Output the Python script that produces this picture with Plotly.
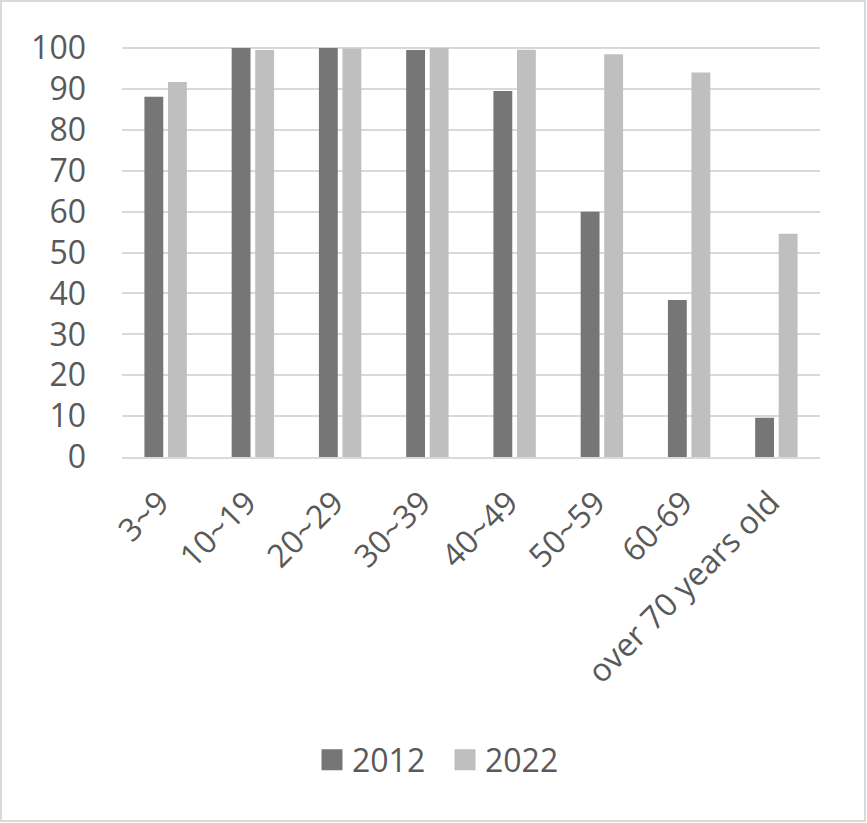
import plotly.graph_objects as go

categories = ["3~9", "10~19", "20~29", "30~39", "40~49", "50~59", "60-69", "over 70 years old"]
values_2012 = [88.1, 100.0, 100.0, 99.5, 89.5, 60.0, 38.4, 9.6]
values_2022 = [91.7, 99.5, 99.9, 100.0, 99.6, 98.5, 94.0, 54.6]
y_ticks = [0, 10, 20, 30, 40, 50, 60, 70, 80, 90, 100]
series_names = ["2012", "2022"]
series_colors = ["#767676", "#bfbfbf"]

W, H = 867, 823
L, R, T, B = 122, 47, 46, 366
pw = W - L - R
ph = H - T - B

def px(x):
    return (x - L) / pw

def py(y):
    return (H - B - y) / ph

FONT = "Open Sans"
TXT = "#595959"
FS = 32

fig = go.Figure()
for name, vals, col in zip(series_names, [values_2012, values_2022], series_colors):
    fig.add_trace(go.Bar(x=categories, y=vals, name=name, legendgroup=name, showlegend=False,
                         marker=dict(color=col, line_width=0)))
for name, col in zip(series_names, series_colors):
    fig.add_trace(go.Scatter(x=[None], y=[None], mode="markers", name=name, legendgroup=name,
                             marker=dict(symbol="square", size=16, color=col,
                                         line=dict(color=col, width=5))))

fig.update_layout(
    width=W, height=H,
    margin=dict(l=L, r=R, t=T, b=B, pad=0),
    paper_bgcolor="white", plot_bgcolor="white",
    barmode="group", bargap=0.46, bargroupgap=0.2,
    font=dict(family=FONT, size=FS, color=TXT),
    showlegend=True,
    legend=dict(orientation="h", x=px(312), xanchor="left", y=py(760), yanchor="middle",
                font=dict(size=FS, color=TXT), itemwidth=30, traceorder="normal",
                entrywidth=88, entrywidthmode="pixels",
                bgcolor="rgba(0,0,0,0)"),
    shapes=[dict(type="rect", xref="paper", yref="paper",
                 x0=px(1), x1=px(865), y0=py(821), y1=py(1),
                 line=dict(color="#d9d9d9", width=2), fillcolor="rgba(0,0,0,0)", layer="below")],
)
fig.update_yaxes(range=[0, 100.5], tickvals=y_ticks, showgrid=True, gridcolor="#d9d9d9", gridwidth=2,
                 zeroline=False, showline=False, ticks="", ticklabelstandoff=35,
                 tickfont=dict(size=FS, color=TXT))
fig.update_xaxes(showline=True, linecolor="#d9d9d9", linewidth=2, tickangle=-45, ticks="",
                 ticklabelstandoff=12, ticklabelshift=-6, tickfont=dict(size=FS, color=TXT))

fig.write_html("out.html", config={"displayModeBar": False},
               post_script="document.body.style.margin='0';document.body.style.padding='0';")
